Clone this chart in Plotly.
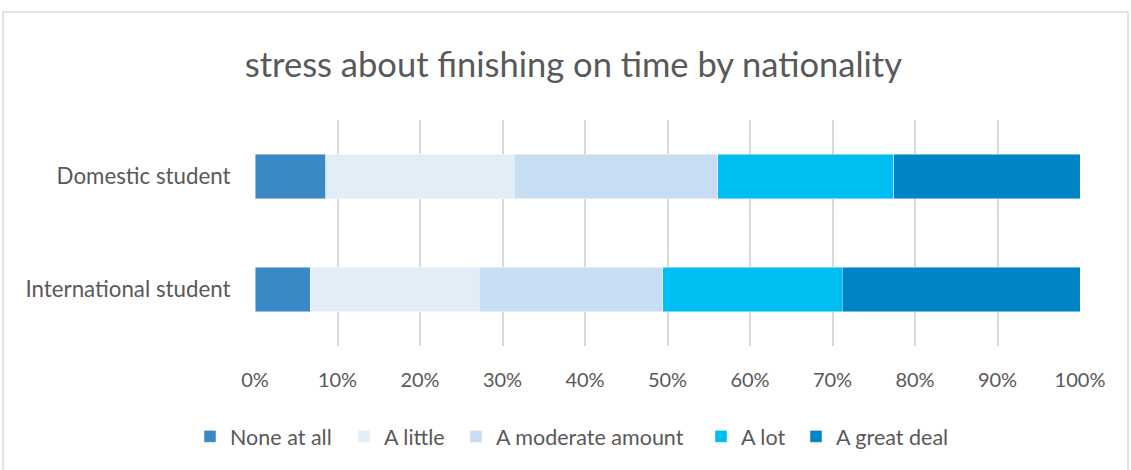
import plotly.graph_objects as go

categories = ["International student", "Domestic student"]
series_names = ["None at all", "A little", "A moderate amount", "A lot", "A great deal"]
none_at_all = [6.7, 8.6]
a_little = [20.5, 22.8]
a_moderate = [22.2, 24.7]
a_lot = [21.8, 21.3]
a_great_deal = [28.8, 22.6]
tick_vals = [0, 10, 20, 30, 40, 50, 60, 70, 80, 90, 100]
tick_text = ["0%", "10%", "20%", "30%", "40%", "50%", "60%", "70%", "80%", "90%", "100%"]

colors = ["#3a88c4", "#e2edf7", "#c7ddf1", "#00bdf2", "#0084c8"]
values = [none_at_all, a_little, a_moderate, a_lot, a_great_deal]
legend_ids = ["legend", "legend2", "legend3", "legend4", "legend5"]
# pixel x where each legend label's text starts in the reference layout
legend_text_px = [227, 381, 493, 738, 833]

fig = go.Figure()
for name, vals, col, lg in zip(series_names, values, colors, legend_ids):
    fig.add_trace(go.Bar(
        y=categories, x=vals, name=name, orientation="h",
        marker=dict(color=col, line=dict(color="rgba(255,255,255,0.6)", width=0.75)),
        width=0.39, legend=lg,
    ))

font_family = "Lato, 'Open Sans', sans-serif"
plot_l, plot_w = 255, 825
legend_layouts = {}
for lg, px in zip(legend_ids, legend_text_px):
    legend_layouts[lg] = dict(orientation="h", x=(px - 37 - plot_l) / plot_w, xanchor="left",
                              y=-0.4, yanchor="middle",
                              font=dict(size=21.5, color="#595959"), itemwidth=30,
                              bgcolor="rgba(0,0,0,0)")

fig.update_layout(
    barmode="stack",
    width=1131, height=470,
    margin=dict(l=255, r=51, t=120, b=124),
    paper_bgcolor="white", plot_bgcolor="white",
    font=dict(family=font_family, color="#595959", size=18),
    title=dict(text="stress about finishing on time by nationality",
               x=0.507, xanchor="center", y=1 - 65 / 470, yanchor="middle",
               font=dict(size=34.5, color="#595959", family=font_family)),
    xaxis=dict(range=[0, 100], tickvals=tick_vals, ticktext=tick_text,
               showgrid=True, gridcolor="#d9d9d9", gridwidth=1.5,
               zeroline=False, showline=False,
               ticks="outside", ticklen=16, tickcolor="rgba(0,0,0,0)",
               tickfont=dict(size=20, color="#595959")),
    yaxis=dict(range=[-0.5, 1.5], showgrid=False, zeroline=False, showline=False,
               ticks="outside", ticklen=19, tickcolor="rgba(0,0,0,0)",
               tickfont=dict(size=22.3, color="#595959")),
    showlegend=True,
    shapes=[dict(type="rect", xref="paper", yref="paper",
                 x0=(3 - 255) / 825, x1=(1128 - 255) / 825,
                 y0=(346 - 480) / 226, y1=(346 - 12) / 226,
                 line=dict(color="#d9d9d9", width=1.5), fillcolor="rgba(0,0,0,0)",
                 layer="below")],
    bargap=0.61,
    **legend_layouts,
)

fig.write_html("out.html", config={"displayModeBar": False},
               post_script="document.body.style.margin='0';document.body.style.padding='0';")
